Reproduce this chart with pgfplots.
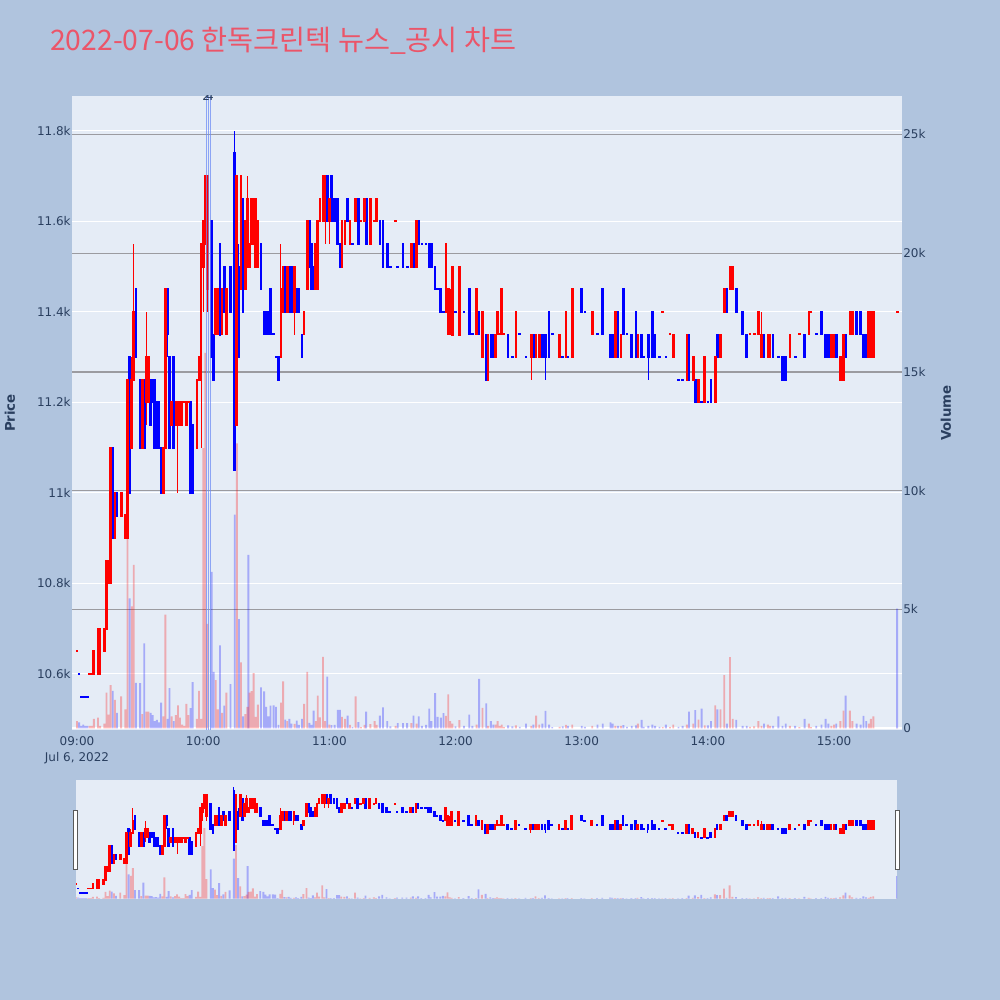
\documentclass[border=0pt]{standalone}
\usepackage{pgfplots}
\pgfplotsset{compat=1.18}
\usepackage{pgfplotstable}
\usepackage{fontspec}
\setmainfont{DejaVu Sans}
\newfontfamily\kr{Noto Sans CJK KR}
\definecolor{pagebg}{RGB}{176,196,222}
\definecolor{plotbg}{RGB}{229,236,246}
\definecolor{tickc}{RGB}{42,63,95}
\definecolor{ttl}{RGB}{235,85,105}
\definecolor{grid2}{RGB}{155,155,160}
\definecolor{cup}{RGB}{255,0,0}
\definecolor{cdn}{RGB}{0,0,255}
\definecolor{news}{RGB}{110,140,245}

\pgfplotstableread{
t o h l c v
0 10650 10650 10650 10650 300
6 10600 10600 10600 10600 100
7 10600 10600 10600 10600 100
8 10600 10650 10600 10650 400
10 10600 10700 10600 10700 450
11 10600 10700 10600 10700 100
13 10650 10700 10650 10700 200
14 10700 10850 10700 10850 1500
15 10800 10850 10800 10850 570
16 10800 11100 10800 11100 1820
18 10900 11000 10900 11000 1200
21 10950 11000 10950 11000 1340
23 10900 10950 10900 10950 800
24 10900 11250 10900 11250 7960
26 11100 11300 11100 11250 5130
27 11250 11550 11250 11400 6880
31 11100 11250 11100 11250 600
33 11200 11400 11150 11300 700
34 11200 11300 11200 11300 700
41 11000 11100 11000 11100 500
42 11100 11450 11100 11450 4780
45 11150 11200 11150 11200 500
47 11150 11200 11150 11200 550
48 11150 11200 11000 11200 960
49 11150 11200 11150 11200 450
50 11150 11200 11150 11200 150
51 11200 11200 11200 11200 100
52 11150 11200 11150 11200 1030
53 11200 11200 11200 11200 550
57 11100 11250 11100 11250 400
58 11250 11300 11250 11300 1570
59 11250 11550 11100 11550 400
60 11500 11600 11400 11600 11800
61 11550 11700 11550 11700 15800
62 11450 11700 11400 11700 4400
66 11350 11450 11350 11450 2030
67 11350 11450 11350 11450 800
69 11350 11450 11350 11450 650
71 11350 11450 11350 11450 1500
76 11150 11700 11150 11700 12000
78 11450 11700 11450 11700 2770
80 11450 11600 11450 11600 600
81 11500 11700 11500 11650 900
82 11500 11550 11500 11550 1500
83 11550 11650 11550 11650 1560
84 11550 11650 11550 11650 2320
85 11500 11650 11500 11650 480
86 11500 11600 11500 11600 1000
97 11300 11550 11300 11450 1080
98 11400 11500 11400 11500 1980
100 11400 11500 11400 11500 300
103.5 11400 11500 11350 11500 190
108 11350 11400 11350 11400 1030
109.5 11450 11600 11450 11600 2370
113.5 11450 11550 11450 11550 300
114.5 11450 11600 11450 11600 1380
115.5 11600 11650 11600 11650 460
117 11600 11700 11600 11700 3010
118 11600 11700 11550 11700 300
120 11600 11650 11550 11650 150
126 11500 11600 11500 11600 480
127.5 11550 11600 11550 11600 400
129.8 11550 11600 11550 11600 140
132.5 11600 11650 11600 11650 1340
135 11600 11600 11600 11600 50
136.7 11600 11650 11600 11650 140
139.5 11550 11650 11550 11650 180
141.5 11600 11600 11600 11600 300
142.5 11600 11650 11600 11650 140
151.5 11600 11600 11600 11600 100
159 11500 11550 11500 11550 220
161.5 11500 11600 11500 11600 200
175.4 11400 11550 11400 11550 520
176.5 11350 11450 11350 11450 1430
177.5 11350 11450 11350 11400 300
178.5 11350 11500 11350 11500 200
181.8 11350 11500 11350 11500 340
190 11350 11450 11350 11450 150
192.8 11300 11400 11300 11400 860
195.5 11250 11350 11250 11350 100
199 11300 11350 11300 11350 150
200 11350 11400 11350 11400 300
201 11350 11350 11350 11350 100
202 11350 11450 11350 11450 150
203 11350 11350 11350 11350 50
208.7 11300 11400 11300 11400 120
216 11300 11350 11250 11350 100
218.3 11300 11350 11300 11350 530
219.8 11300 11350 11300 11350 150
229.5 11300 11350 11300 11350 60
232.5 11300 11400 11300 11400 140
235.5 11300 11450 11300 11450 150
245 11350 11400 11350 11400 100
256 11300 11400 11300 11400 100
258.7 11300 11350 11300 11350 100
266.7 11300 11350 11300 11350 200
278.5 11400 11400 11400 11400 50
282 11350 11350 11350 11350 50
283.5 11300 11350 11300 11350 150
290 11250 11350 11250 11350 150
293 11250 11300 11250 11300 200
295.5 11200 11250 11200 11250 360
298.5 11200 11300 11200 11300 120
303.5 11200 11300 11200 11300 960
306 11300 11350 11300 11350 800
307.8 11400 11450 11400 11450 2240
310.5 11450 11500 11450 11500 3000
311.8 11450 11500 11450 11500 400
320 11350 11350 11350 11350 60
322 11350 11350 11350 11350 80
324 11350 11400 11350 11400 300
325.5 11300 11400 11300 11350 100
328.5 11300 11350 11300 11350 150
329.6 11300 11350 11300 11350 100
339 11300 11350 11300 11350 100
343.5 11350 11350 11350 11350 50
348 11350 11400 11350 11400 200
349 11400 11400 11400 11400 50
358.7 11300 11350 11300 11350 100
360 11300 11350 11300 11350 150
363 11250 11300 11250 11300 300
364.5 11250 11350 11250 11350 740
367.5 11350 11400 11350 11400 740
368.7 11350 11400 11350 11400 300
376.5 11300 11400 11300 11400 200
377.5 11300 11400 11300 11400 400
378.7 11300 11400 11300 11400 500
390 11400 11400 11400 11400 0
}\up

\pgfplotstableread{
t o h l c v
1 10600 10600 10600 10600 250
2 10550 10550 10550 10550 100
3 10550 10550 10550 10550 150
4 10550 10550 10550 10550 100
5 10550 10550 10550 10550 100
17 11100 11100 10900 10900 1580
19 11000 11000 10950 10950 650
25 11300 11300 11000 11000 5470
28 11450 11450 11300 11300 1910
30 11250 11250 11100 11100 1900
32 11250 11250 11100 11100 3580
35 11250 11250 11150 11150 650
36 11250 11250 11200 11200 550
37 11250 11250 11100 11100 300
38 11200 11200 11100 11100 350
39 11200 11200 11100 11100 250
40 11100 11100 11000 11000 1080
43 11450 11450 11300 11350 400
44 11300 11300 11100 11100 1690
46 11300 11300 11100 11100 300
54 11200 11200 11000 11000 850
55 11150 11150 11000 11000 1940
64 11600 11600 11300 11300 6590
65 11350 11350 11250 11250 2370
68 11550 11550 11350 11350 3490
70 11500 11500 11400 11400 950
73 11500 11500 11400 11400 1860
75 11750 11800 11050 11050 9000
77 11500 11550 11300 11300 4600
79 11650 11650 11400 11400 500
81.5 11550 11550 11500 11500 7300
87.5 11550 11550 11450 11450 1720
89 11400 11400 11350 11350 1550
90 11400 11400 11350 11350 900
91 11400 11400 11350 11350 500
92 11450 11450 11350 11350 950
93.5 11350 11350 11350 11350 960
94.6 11300 11300 11300 11300 900
95.8 11300 11300 11250 11250 140
99 11500 11500 11400 11400 360
101 11500 11500 11400 11400 400
102 11500 11500 11400 11400 200
104.5 11450 11450 11400 11400 320
105.5 11450 11450 11400 11400 140
107 11350 11350 11300 11300 400
110.5 11600 11600 11500 11500 230
111.5 11550 11550 11450 11450 140
112.5 11500 11500 11450 11450 740
119 11700 11700 11600 11600 2170
121 11700 11700 11600 11600 130
122.5 11650 11650 11600 11600 140
124 11650 11650 11550 11550 770
125 11550 11550 11500 11500 770
128.7 11650 11650 11600 11600 530
131 11550 11550 11550 11550 50
133.8 11650 11650 11550 11550 260
137.5 11650 11650 11550 11550 700
144 11600 11600 11550 11550 530
145.5 11600 11600 11500 11500 880
147.5 11550 11550 11500 11500 300
149 11500 11500 11500 11500 80
152.5 11500 11500 11500 11500 220
155 11550 11550 11500 11500 220
157 11500 11500 11500 11500 220
160 11550 11550 11500 11500 530
162.5 11600 11600 11550 11550 500
164 11550 11550 11550 11550 100
166 11550 11550 11550 11550 140
167.5 11550 11550 11500 11500 830
168.5 11550 11550 11500 11500 300
170.3 11500 11500 11450 11450 1480
171.5 11450 11450 11450 11450 480
173 11450 11450 11400 11400 450
174.3 11400 11400 11400 11400 640
180 11400 11400 11400 11400 80
184 11400 11400 11400 11400 100
186.5 11450 11450 11350 11350 570
188 11350 11350 11350 11350 100
191.2 11400 11400 11350 11350 2080
194.6 11350 11350 11250 11250 1050
196.8 11350 11350 11300 11300 300
198 11350 11350 11300 11300 150
205 11350 11350 11300 11300 120
207 11300 11300 11300 11300 80
210.5 11350 11350 11350 11350 60
213.5 11300 11300 11300 11300 200
217 11350 11350 11300 11300 150
221.3 11350 11350 11300 11300 200
222.8 11350 11350 11250 11300 730
224.5 11400 11400 11300 11300 150
226 11350 11350 11350 11350 50
231 11300 11300 11300 11300 80
233.5 11300 11300 11300 11300 100
240 11450 11450 11400 11400 100
241.5 11400 11400 11400 11400 60
247.5 11350 11350 11350 11350 150
250 11450 11450 11350 11350 200
253.7 11350 11350 11300 11300 250
254.7 11350 11350 11300 11300 200
257.3 11400 11400 11300 11300 100
259.8 11450 11450 11350 11350 130
261.5 11350 11350 11350 11350 60
263.8 11350 11350 11300 11300 100
265.8 11400 11400 11300 11300 120
268.5 11350 11350 11300 11300 350
269.5 11300 11300 11300 11300 60
271.7 11350 11350 11250 11300 100
273.6 11400 11400 11300 11300 150
274.9 11350 11350 11300 11300 100
277 11300 11300 11300 11300 60
280 11300 11300 11300 11300 150
286 11250 11250 11250 11250 60
288 11250 11250 11250 11250 100
291 11350 11350 11250 11250 700
294 11250 11250 11200 11200 760
297 11200 11200 11200 11200 830
300 11200 11200 11200 11200 120
301.5 11250 11250 11200 11200 300
304.5 11350 11350 11300 11300 800
309 11450 11450 11400 11400 200
313.5 11450 11450 11400 11400 350
316.5 11400 11400 11350 11350 100
318.5 11350 11350 11300 11300 100
326.7 11350 11350 11300 11300 200
331 11350 11350 11300 11300 100
333.5 11300 11300 11300 11300 500
335.5 11300 11300 11250 11250 100
337 11300 11300 11250 11250 200
341.5 11300 11300 11300 11300 100
346 11350 11350 11300 11300 400
351.5 11350 11350 11350 11350 100
354 11400 11400 11350 11350 150
356 11350 11350 11300 11300 400
357.3 11350 11350 11300 11300 200
361 11350 11350 11300 11300 200
365.5 11350 11350 11300 11300 1380
370.7 11400 11400 11350 11350 200
372.6 11400 11400 11350 11350 150
374 11350 11350 11300 11300 520
375.3 11350 11350 11300 11300 300
390 11400 11400 11400 11400 5040
}\dn

\pgfplotsset{
  base/.style={scale only axis, anchor=south west, axis line style={draw=none},
    scaled ticks=false,
    major tick length=0pt, tick style={draw=none},
    ticklabel style={font=\fontsize{9bp}{12bp}\selectfont, text=tickc}},
  wick/.style={draw=none, no markers, forget plot, error bars/.cd, y dir=both, y explicit,
    error mark=none, error bar style={draw=#1, line width=0.75bp}},
  body/.style={draw=none, no markers, forget plot, error bars/.cd, y dir=both, y explicit,
    error mark=none, error bar style={draw=#1, line width=2bp}},
  vbar/.style={ybar, bar width=1.4bp, bar shift=0pt, fill=#1, fill opacity=0.28, draw=none, forget plot},
}

\begin{document}
\begin{tikzpicture}[x=0.75bp,y=0.75bp]
\fill[pagebg] (0,0) rectangle (1000,1000);
\node[anchor=base west, text=ttl, font=\kr\fontsize{21.2bp}{24bp}\selectfont, inner sep=0pt] at (50,949.3) {2022-07-06 한독크린텍 뉴스\_공시 차트};

% volume axis background and grid
\begin{axis}[base, at={(54bp,202.5bp)}, width=622.5bp, height=475.5bp,
  xmin=-2.38, xmax=392.3, ymin=-72, ymax=26620,
  axis background/.style={fill=plotbg},
  xtick=\empty, ytick={5000,10000,15000,20000,25000},
  yticklabels={5k,10k,15k,20k,25k},
  extra y ticks={0}, extra y tick labels={0},
  extra y tick style={grid style={white, line width=1.5bp}},
  yticklabel pos=right, yticklabel style={anchor=west, inner sep=0.8bp},
  ymajorgrids, grid style={grid2, line width=0.9bp}]
\end{axis}

% price axis
\begin{axis}[base, at={(54bp,202.5bp)}, width=622.5bp, height=475.5bp,
  xmin=-2.38, xmax=392.3, ymin=10476, ymax=11877,
  xtick={0,60,120,180,240,300,360},
  xticklabels={{09:00\\Jul 6, 2022},10:00,11:00,12:00,13:00,14:00,15:00},
  xticklabel style={align=center, inner sep=0pt, yshift=-5bp},
  ytick={10600,10800,11000,11200,11400,11600,11800},
  yticklabels={10.6k,10.8k,11k,11.2k,11.4k,11.6k,11.8k},
  yticklabel style={anchor=east, inner sep=0.8bp},
  ymajorgrids, grid style={white, line width=0.9bp}]
\addplot[wick=cdn] table[x=t, y expr={(\thisrow{h}+\thisrow{l})/2}, y error expr={(\thisrow{h}-\thisrow{l})/2}] {\dn};
\addplot[body=cdn] table[x=t, y expr={(\thisrow{o}+\thisrow{c})/2}, y error expr={abs(\thisrow{o}-\thisrow{c})/2+2.2}] {\dn};
\addplot[wick=cup] table[x=t, y expr={(\thisrow{h}+\thisrow{l})/2}, y error expr={(\thisrow{h}-\thisrow{l})/2}] {\up};
\addplot[body=cup] table[x=t, y expr={(\thisrow{o}+\thisrow{c})/2}, y error expr={abs(\thisrow{o}-\thisrow{c})/2+2.2}] {\up};
\end{axis}

% volume bars and news lines
\begin{axis}[base, at={(54bp,202.5bp)}, width=622.5bp, height=475.5bp,
  xmin=-2.38, xmax=392.3, ymin=-72, ymax=26620, ticks=none]
\addplot[vbar=cdn] table[x=t, y=v] {\dn};
\addplot[vbar=cup] table[x=t, y=v] {\up};
\addplot[news, line width=0.8bp, opacity=0.75, forget plot] coordinates {(61.7,-72) (61.7,26620)};
\addplot[news, line width=0.8bp, opacity=0.75, forget plot] coordinates {(62.6,-72) (62.6,26620)};
\addplot[news, line width=0.8bp, opacity=0.75, forget plot] coordinates {(63.4,-72) (63.4,26620)};
\node[font=\fontsize{9bp}{10bp}\selectfont, text=tickc, inner sep=0pt] at (axis cs:61.4,26620) {2};
\node[font=\fontsize{9bp}{10bp}\selectfont, text=tickc, inner sep=0pt] at (axis cs:63.2,26620) {4};
\end{axis}

% range slider
\begin{axis}[base, at={(57bp,75.75bp)}, width=615.75bp, height=89.25bp,
  xmin=0, xmax=390, ymin=10476, ymax=11877, ticks=none,
  axis background/.style={fill=plotbg}]
\addplot[wick=cdn] table[x=t, y expr={(\thisrow{h}+\thisrow{l})/2}, y error expr={(\thisrow{h}-\thisrow{l})/2}] {\dn};
\addplot[body=cdn] table[x=t, y expr={(\thisrow{o}+\thisrow{c})/2}, y error expr={abs(\thisrow{o}-\thisrow{c})/2+11}] {\dn};
\addplot[wick=cup] table[x=t, y expr={(\thisrow{h}+\thisrow{l})/2}, y error expr={(\thisrow{h}-\thisrow{l})/2}] {\up};
\addplot[body=cup] table[x=t, y expr={(\thisrow{o}+\thisrow{c})/2}, y error expr={abs(\thisrow{o}-\thisrow{c})/2+11}] {\up};
\end{axis}
\begin{axis}[base, at={(57bp,75.75bp)}, width=615.75bp, height=89.25bp,
  xmin=0, xmax=390, ymin=-72, ymax=26620, ticks=none]
\addplot[vbar=cdn] table[x=t, y=v] {\dn};
\addplot[vbar=cup] table[x=t, y=v] {\up};
\end{axis}

\draw[fill=white, draw=gray!70!black, line width=0.75bp] (73.5,130) rectangle (77.5,189);
\draw[fill=white, draw=gray!70!black, line width=0.75bp] (895.5,130) rectangle (899.5,189);

\node[rotate=90, font=\bfseries\fontsize{10bp}{12bp}\selectfont, text=tickc] at (10,587) {Price};
\node[rotate=90, font=\bfseries\fontsize{10bp}{12bp}\selectfont, text=tickc] at (946,587) {Volume};

\pgfresetboundingbox
\path (0,0) rectangle (1000,1000);
\end{tikzpicture}
\end{document}
